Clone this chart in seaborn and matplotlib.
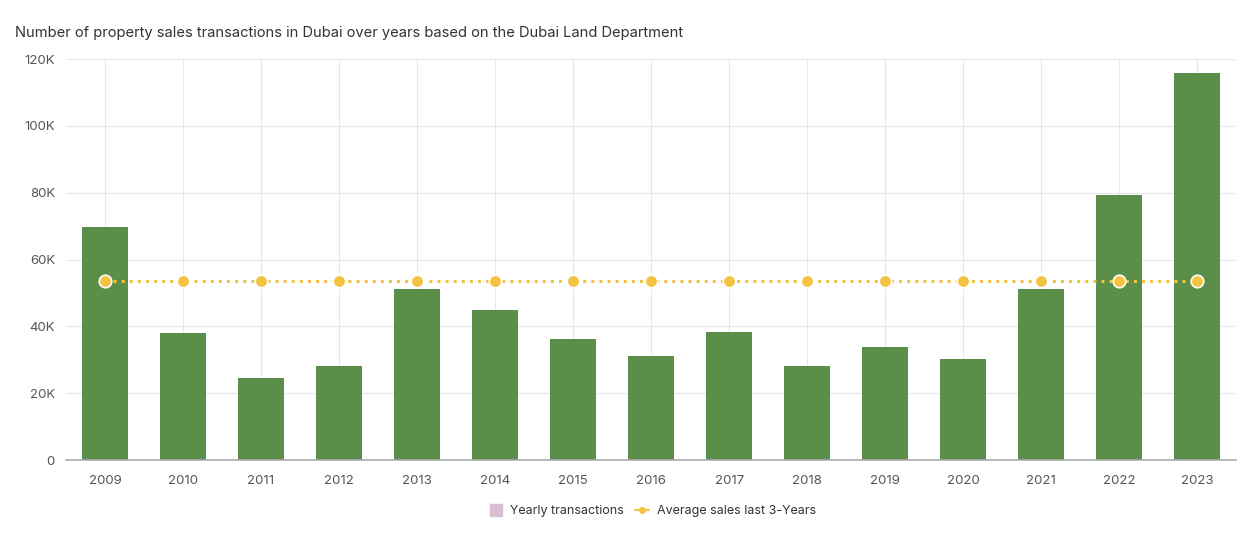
import seaborn as sns
import matplotlib.pyplot as plt
from matplotlib.lines import Line2D
from matplotlib.ticker import FuncFormatter

years = [str(y) for y in range(2009, 2024)]
yearly_transactions = [69700, 38000, 24500, 28100, 51200, 44900, 36200, 31100,
                       38300, 28100, 33800, 30200, 51200, 79300, 115800]
avg_last_3_years = [53600] * 15

sns.set_theme(style="whitegrid")
plt.rcParams['font.family'] = ['Inter', 'DejaVu Sans']

fig = plt.figure(figsize=(12.57, 5.47), dpi=100)
ax = fig.add_axes([0.0525, 0.159, 0.931, 0.733])

bar_color = "#5b8f49"
avg_color = "#f5c342"

sns.barplot(x=years, y=yearly_transactions, color=bar_color, width=0.59,
            saturation=1, linewidth=0, ax=ax, zorder=2)
sns.pointplot(x=years, y=avg_last_3_years, color=avg_color, ax=ax,
              linestyle=":", linewidth=2.2, markersize=9,
              markeredgecolor="white", markeredgewidth=1.2, zorder=3)

ax.set_xlim(-0.5, 14.5)
ax.set_ylim(0, 120000)
ax.set_yticks(range(0, 120001, 20000))
ax.yaxis.set_major_formatter(FuncFormatter(lambda v, p: "0" if v == 0 else f"{int(v/1000)}K"))

ax.grid(True, color="#e8e8e8", linewidth=0.8)
ax.set_axisbelow(True)
for s in ["top", "right", "left"]:
    ax.spines[s].set_visible(False)
ax.spines["bottom"].set_color("#aaaaaa")
ax.spines["bottom"].set_linewidth(1.2)
ax.tick_params(axis="y", colors="#555555", labelsize=9.5, length=0, pad=8)
ax.tick_params(axis="x", colors="#555555", labelsize=9.5, length=0, pad=11)
ax.set_xlabel("")
ax.set_ylabel("")

fig.text(0.012, 0.940, "Number of property sales transactions in Dubai over years based on the Dubai Land Department",
         fontsize=10.6, color="#333333", va="center", ha="left")

handles = [
    Line2D([], [], marker="s", linestyle="none", markersize=8,
           markerfacecolor="#d9bfd2", markeredgecolor="#d9bfd2"),
    Line2D([], [], marker="o", color=avg_color, linewidth=1.5, markersize=4),
]
fig.legend(handles, ["Yearly transactions", "Average sales last 3-Years"],
           loc="center", bbox_to_anchor=(0.519, 0.066), ncol=2, frameon=False,
           fontsize=9, handlelength=1.1, handletextpad=0.6, columnspacing=0.9,
           labelcolor="#333333")

fig.savefig("out.png", dpi=100)
